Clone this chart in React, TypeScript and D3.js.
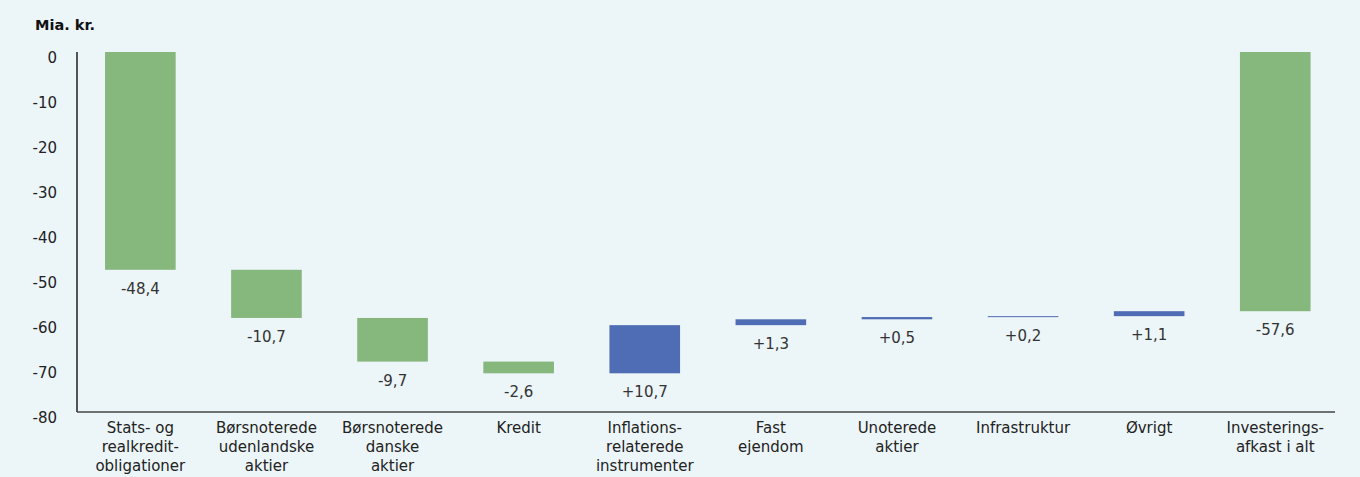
import React from "react";
import * as d3 from "d3";

const categories: string[][] = [
  ["Stats- og", "realkredit-", "obligationer"],
  ["Børsnoterede", "udenlandske", "aktier"],
  ["Børsnoterede", "danske", "aktier"],
  ["Kredit"],
  ["Inflations-", "relaterede", "instrumenter"],
  ["Fast", "ejendom"],
  ["Unoterede", "aktier"],
  ["Infrastruktur"],
  ["Øvrigt"],
  ["Investerings-", "afkast i alt"],
];
const changes: number[] = [-48.4, -10.7, -9.7, -2.6, 10.7, 1.3, 0.5, 0.2, 1.1];
const totalValue = -57.6;
const valueLabels: string[] = ["-48,4", "-10,7", "-9,7", "-2,6", "+10,7", "+1,3", "+0,5", "+0,2", "+1,1", "-57,6"];
const yTicks: number[] = [0, -10, -20, -30, -40, -50, -60, -70, -80];

const W = 1360;
const H = 477;
const BG = "#ECF5F8";
const GREEN = "#86B77C";
const BLUE = "#4F6DB5";
const FONT = "'DejaVu Sans', 'Liberation Sans', Arial, sans-serif";
const FS = 15;

export default function App() {
  const x = d3
    .scaleBand<number>()
    .domain(d3.range(categories.length))
    .range([77.3, 1338.3])
    .paddingInner(0.44)
    .paddingOuter(0.22);
  const y = d3.scaleLinear().domain([0, -80]).range([52, 412]);

  let cum = 0;
  const bars = changes.map((v, i) => {
    const start = cum;
    cum += v;
    return { i, lo: Math.min(start, cum), hi: Math.max(start, cum), pos: v > 0 };
  });
  bars.push({ i: changes.length, lo: totalValue, hi: 0, pos: false });

  return (
    <svg
      width={W}
      height={H}
      style={{ position: "absolute", left: 0, top: 0, display: "block" }}
      fontFamily={FONT}
    >
      <rect x={0} y={0} width={W} height={H} fill={BG} />
      <text x={35} y={30} fontSize={14.5} fontWeight={700} fill="#111">
        Mia. kr.
      </text>
      {yTicks.map((t) => (
        <text key={t} x={57} y={y(t) + 11} fontSize={FS} textAnchor="end" fill="#222">
          {t}
        </text>
      ))}
      {bars.map((b) => (
        <rect
          key={b.i}
          x={x(b.i)!}
          y={y(b.hi)}
          width={x.bandwidth()}
          height={Math.max(1, y(b.lo) - y(b.hi))}
          fill={b.pos ? BLUE : GREEN}
        />
      ))}
      {bars.map((b) => (
        <text
          key={"l" + b.i}
          x={x(b.i)! + x.bandwidth() / 2}
          y={y(b.lo) + 24}
          fontSize={FS}
          textAnchor="middle"
          fill="#333"
        >
          {valueLabels[b.i]}
        </text>
      ))}
      <line x1={77} x2={77} y1={52} y2={412} stroke="#555" strokeWidth={2} />
      <line x1={77} x2={1335} y1={412} y2={412} stroke="#444" strokeWidth={1.5} />
      {categories.map((lines, i) => (
        <text
          key={"c" + i}
          x={x(i)! + x.bandwidth() / 2}
          fontSize={FS}
          textAnchor="middle"
          fill="#222"
        >
          {lines.map((ln, j) => (
            <tspan key={j} x={x(i)! + x.bandwidth() / 2} y={433 + j * 19}>
              {ln}
            </tspan>
          ))}
        </text>
      ))}
    </svg>
  );
}
